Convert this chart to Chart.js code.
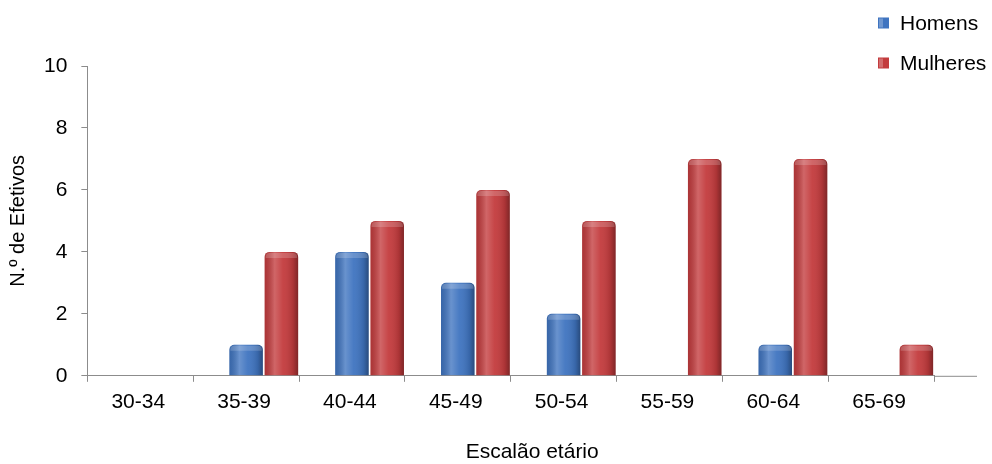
<!DOCTYPE html>
<html>
<head>
<meta charset="utf-8">
<script src="https://cdn.jsdelivr.net/npm/chart.js@4.4.0/dist/chart.umd.min.js"></script>
<style>
  html, body { margin: 0; padding: 0; background: #fff; }
  #wrap { width: 992px; height: 464px; }
</style>
</head>
<body>
<div id="wrap"><canvas id="myChart"></canvas></div>
<script>
/* DATA */
var faixas = ["30-34", "35-39", "40-44", "45-49", "50-54", "55-59", "60-64", "65-69"];
var homens = [0, 1, 4, 3, 2, 0, 1, 0];
var mulheres = [0, 4, 5, 6, 5, 7, 7, 1];
var yTicks = [0, 2, 4, 6, 8, 10];
var xTitle = "Escalão etário";
var yTitle = "N.º de Efetivos";

const blue = "#3f74c0";
const red = "#c33b3d";
const axisGray = "#8c8c8c";
const fontFam = "'Liberation Sans', Arial, sans-serif";

Chart.defaults.font.family = fontFam;
Chart.defaults.font.size = 21;
Chart.defaults.color = "#000";

// shading on top of each bar so they look a bit like the excel 3D columns
const barShade = {
  id: "barShade",
  afterDatasetsDraw(chart) {
    const ctx = chart.ctx;
    chart.data.datasets.forEach(function (ds, di) {
      if (!ds.shade) return;
      const meta = chart.getDatasetMeta(di);
      meta.data.forEach(function (el) {
        const p = el.getProps(["x", "y", "base", "width"], true);
        const h = p.base - p.y;
        if (!(h > 0)) return;
        const left = p.x - p.width / 2;
        const g = ctx.createLinearGradient(left, 0, left + p.width, 0);
        g.addColorStop(0, "rgba(0,0,0,0.12)");
        g.addColorStop(0.3, "rgba(255,255,255,0.22)");
        g.addColorStop(0.55, "rgba(255,255,255,0.05)");
        g.addColorStop(0.85, "rgba(0,0,0,0.12)");
        g.addColorStop(1, "rgba(0,0,0,0.35)");
        ctx.save();
        ctx.beginPath();
        ctx.roundRect(left, p.y, p.width, h, [5, 5, 0, 0]);
        ctx.fillStyle = g;
        ctx.fill();
        // light rim at the top
        ctx.beginPath();
        ctx.roundRect(left + 1, p.y + 1, p.width - 2, Math.min(5, h - 1), [4, 4, 0, 0]);
        ctx.fillStyle = "rgba(255,255,255,0.18)";
        ctx.fill();
        ctx.restore();
      });
    });
  }
};

// legend top right, x title (centred over the floor incl. depth) and the floor extension
const extras = {
  id: "extras",
  afterDraw(chart) {
    const ctx = chart.ctx;
    const area = chart.chartArea;
    ctx.save();
    ctx.strokeStyle = axisGray;
    ctx.lineWidth = 1;
    ctx.beginPath();
    ctx.moveTo(area.right, area.bottom + 0.5);
    ctx.lineTo(977, area.bottom + 0.5);
    ctx.stroke();

    ctx.font = "21px " + fontFam;
    ctx.textBaseline = "middle";
    ctx.fillStyle = "#000";
    ctx.textAlign = "center";
    ctx.fillText(xTitle, (area.left + 977) / 2, 452);

    ctx.textAlign = "left";
    const items = [{ text: "Homens", color: blue, y: 23 }, { text: "Mulheres", color: red, y: 63 }];
    items.forEach(function (it) {
      ctx.fillStyle = it.color;
      ctx.fillRect(878, it.y - 5.5, 11, 11);
      ctx.fillStyle = "rgba(255,255,255,0.25)";
      ctx.fillRect(879, it.y - 4.5, 4, 9);
      ctx.fillStyle = "#000";
      ctx.fillText(it.text, 900, it.y + 1);
    });
    ctx.restore();
  }
};

new Chart("myChart", {
  type: "bar",
  data: {
    labels: faixas,
    datasets: [
      { label: "", data: faixas.map(function () { return null; }) },
      { label: "Homens", data: homens, backgroundColor: blue, shade: true,
        borderRadius: { topLeft: 5, topRight: 5 }, borderSkipped: "bottom" },
      { label: "Mulheres", data: mulheres, backgroundColor: red, shade: true,
        borderRadius: { topLeft: 5, topRight: 5 }, borderSkipped: "bottom" }
    ]
  },
  options: {
    responsive: true,
    maintainAspectRatio: false,
    animation: false,
    categoryPercentage: 1,
    barPercentage: 0.95,
    layout: { padding: { top: 66, right: 58, left: 6, bottom: 41 } },
    plugins: {
      legend: { display: false },
      tooltip: { enabled: false }
    },
    scales: {
      x: {
        grid: { drawOnChartArea: false, drawTicks: true, tickLength: 6, color: axisGray, offset: true },
        border: { color: axisGray },
        ticks: { padding: 8, labelOffset: -2, maxRotation: 0 }
      },
      y: {
        min: 0,
        max: 10,
        afterBuildTicks: function (axis) {
          axis.ticks = yTicks.map(function (v) { return { value: v }; });
        },
        grid: { drawOnChartArea: false, drawTicks: true, tickLength: 6, color: axisGray },
        border: { color: axisGray },
        ticks: { padding: 14 },
        title: { display: true, text: yTitle, font: { size: 20 }, padding: { top: 0, bottom: 0 } }
      }
    }
  },
  plugins: [barShade, extras]
});
</script>
</body>
</html>
